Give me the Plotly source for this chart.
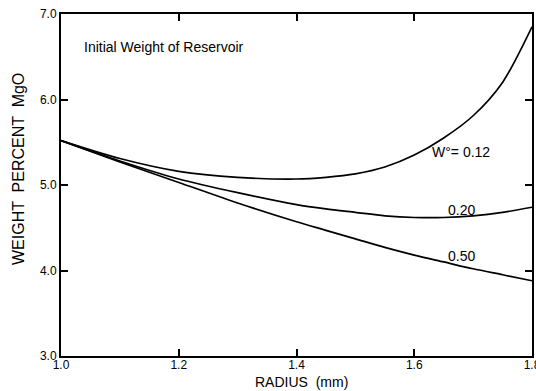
import plotly.graph_objects as go

radius = [1.0, 1.1, 1.2, 1.3, 1.4, 1.45, 1.5, 1.55, 1.6, 1.65, 1.7, 1.75, 1.8]
w012 = [5.52, 5.31, 5.16, 5.09, 5.07, 5.09, 5.13, 5.21, 5.35, 5.55, 5.81, 6.20, 6.85]
w020 = [5.52, 5.28, 5.07, 4.91, 4.77, 4.72, 4.68, 4.64, 4.62, 4.62, 4.64, 4.68, 4.74]
w050 = [5.52, 5.27, 5.03, 4.79, 4.57, 4.47, 4.37, 4.27, 4.18, 4.10, 4.02, 3.95, 3.88]

x_ticks = [1.0, 1.2, 1.4, 1.6, 1.8]
y_ticks = [3.0, 4.0, 5.0, 6.0, 7.0]

FONT = "Liberation Sans"

fig = go.Figure()
for ys in (w012, w020, w050):
    fig.add_trace(go.Scatter(
        x=radius, y=ys, mode="lines",
        line=dict(color="black", width=1.7, shape="spline", smoothing=0.8),
        showlegend=False, hoverinfo="skip"))

annots = [
    dict(x=1.036, y=6.61, text="Initial Weight of Reservoir", xanchor="left", size=14),
    dict(x=1.68, y=5.39, text="W°= 0.12", xanchor="center", size=14),
    dict(x=1.681, y=4.71, text="0.20", xanchor="center", size=14),
    dict(x=1.681, y=4.17, text="0.50", xanchor="center", size=14),
]
for a in annots:
    fig.add_annotation(x=a["x"], y=a["y"], text=a["text"], showarrow=False,
                       xanchor=a["xanchor"], yanchor="middle",
                       font=dict(family=FONT, size=a["size"], color="black"))

# axis titles
fig.add_annotation(xref="paper", yref="paper", x=0.51, y=-0.102,
                   text="RADIUS  (mm)", showarrow=False,
                   xanchor="center", yanchor="bottom", borderpad=0,
                   font=dict(family=FONT, size=14, color="black"))
fig.add_annotation(xref="paper", yref="paper", x=-0.089, y=0.547,
                   text="WEIGHT  PERCENT  MgO", showarrow=False, textangle=-90,
                   xanchor="center", yanchor="middle",
                   font=dict(family=FONT, size=16, color="black"))

axis_common = dict(
    showline=True, linecolor="black", linewidth=2, mirror="ticks",
    ticks="inside", ticklen=7, tickwidth=1.5, tickcolor="black",
    showgrid=False, zeroline=False, ticklabeloverflow="allow",
    automargin=False,
    tickfont=dict(family=FONT, size=12, color="black"),
)

fig.update_xaxes(range=[1.0, 1.8], tickvals=x_ticks, ticklabelstandoff=-3,
                 ticktext=[f"{v:.1f}" for v in x_ticks], **axis_common)
fig.update_yaxes(range=[3.0, 7.0], tickvals=y_ticks,
                 ticktext=[f"{v:.1f}" for v in y_ticks], **axis_common)

fig.update_layout(
    width=536, height=391,
    margin=dict(l=61, r=4, t=14, b=35),
    paper_bgcolor="white", plot_bgcolor="white",
)

fig.write_html("out.html")
